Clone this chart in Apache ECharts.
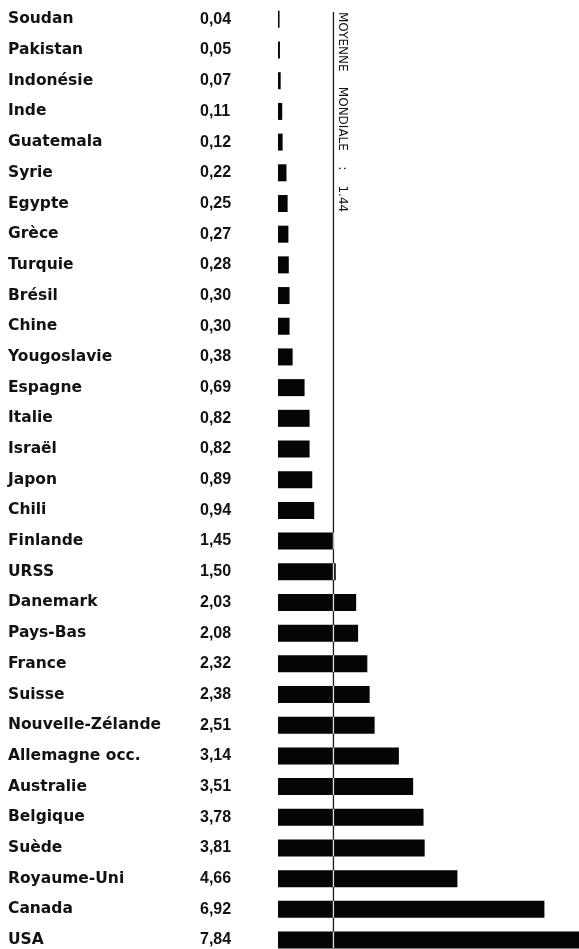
<!DOCTYPE html>
<html>
<head>
<meta charset="utf-8">
<script src="https://cdn.jsdelivr.net/npm/echarts@6/dist/echarts.min.js"></script>
<style>
html,body{margin:0;padding:0;background:#fff;}
#c{width:579px;height:949px;}
</style>
</head>
<body>
<div id="c"></div>
<script>
const countries = ["Soudan","Pakistan","Indonésie","Inde","Guatemala","Syrie","Egypte","Grèce","Turquie","Brésil","Chine","Yougoslavie","Espagne","Italie","Israël","Japon","Chili","Finlande","URSS","Danemark","Pays-Bas","France","Suisse","Nouvelle-Zélande","Allemagne occ.","Australie","Belgique","Suède","Royaume-Uni","Canada","USA"];
const values = [0.04,0.05,0.07,0.11,0.12,0.22,0.25,0.27,0.28,0.30,0.30,0.38,0.69,0.82,0.82,0.89,0.94,1.45,1.50,2.03,2.08,2.32,2.38,2.51,3.14,3.51,3.78,3.81,4.66,6.92,7.84];
const worldMean = 1.44;
const meanLabel = "MOYENNE    MONDIALE    :    1.44";

const fmt = v => v.toFixed(2).replace('.', ',');
const chart = echarts.init(document.getElementById('c'), null, {renderer:'canvas'});
const txt = '#121212';
chart.setOption({
  animation:false,
  backgroundColor:'#ffffff',
  grid:{left:278, top:4, height:951.4, width:308, outerBoundsMode:'none', containLabel:false},
  xAxis:{type:'value', min:0, max:8, show:false},
  yAxis:{
    type:'category', inverse:true, data:countries,
    axisLine:{show:false}, axisTick:{show:false}, splitLine:{show:false},
    axisLabel:{
      margin:270, align:'left',
      formatter:(v,i)=>'{n|'+v+'}{v|'+fmt(values[i])+'}',
      rich:{
        n:{width:192, fontFamily:'DejaVu Sans', fontWeight:'bold', fontSize:15.5, color:txt},
        v:{fontFamily:'Liberation Sans', fontWeight:'bold', fontSize:16, color:txt}
      }
    }
  },
  series:[{
    type:'bar', data:values, barWidth:17, clip:false,
    itemStyle:{color:'#050505'}
  }]
});
const px = chart.convertToPixel({xAxisIndex:0}, worldMean);
chart.setOption({graphic:[
  {type:'line', shape:{x1:px, y1:12, x2:px, y2:949}, style:{stroke:'#e6e6e6', lineWidth:1.3, blend:'difference'}, z:10},
  {type:'text', x:px+3, y:12, rotation:-Math.PI/2,
   style:{text:meanLabel, font:'12px "DejaVu Sans"', fill:'#111', textAlign:'left', textVerticalAlign:'bottom'}}
]});
</script>
</body>
</html>
